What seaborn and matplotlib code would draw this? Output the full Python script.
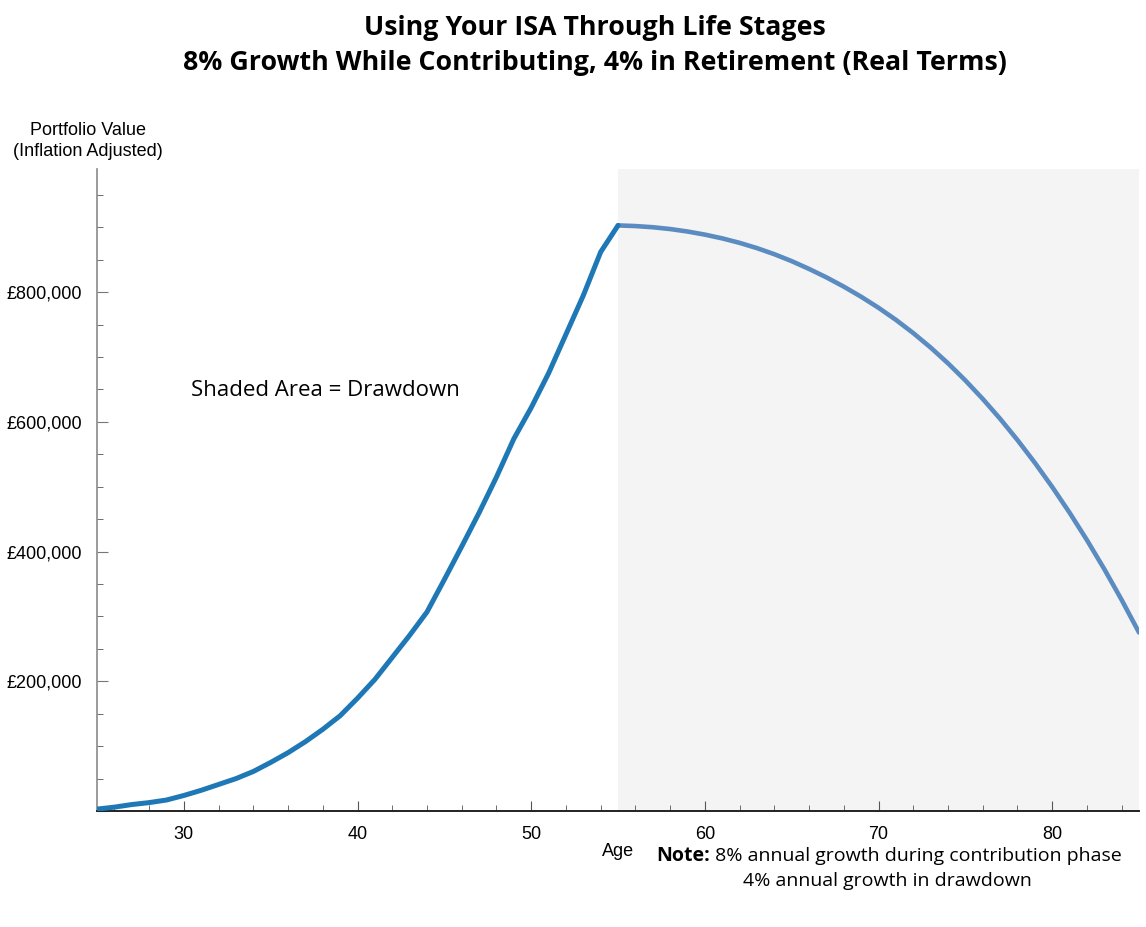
import matplotlib
matplotlib.use("Agg")
import matplotlib.pyplot as plt
from matplotlib.ticker import MultipleLocator, FuncFormatter
import seaborn as sns
import pandas as pd

# contribution phase (8% real growth)
contrib_age = list(range(25, 56))
contrib_value = [3000, 6000, 10000, 13000, 17000, 24000, 32000, 41000, 50000, 61000,
                 75000, 90000, 107000, 126000, 147000, 174000, 203000, 237000, 271000, 307000,
                 357000, 408000, 460000, 515000, 574000, 622000, 675000, 735000, 795000, 862000,
                 903000]

# drawdown phase (4% real growth)
draw_age = list(range(55, 86))
draw_value = [903000, 902000, 900200, 897400, 893600, 888800, 883000, 876100, 868000, 858600,
              847900, 835900, 822900, 808600, 793000, 776000, 757400, 737000, 714700, 690400,
              664000, 635500, 604900, 572100, 537100, 499800, 460100, 417900, 373100, 325600,
              275300]

retire_age = 55
end_age = 85

sns.set_style("ticks")
plt.rcParams["font.family"] = ["Liberation Sans", "DejaVu Sans"]
plt.rcParams["text.color"] = "black"
plt.rcParams["axes.labelcolor"] = "black"
plt.rcParams["xtick.labelcolor"] = "black"
plt.rcParams["ytick.labelcolor"] = "black"

fig = plt.figure(figsize=(11.46, 9.27), dpi=100)
ax = fig.add_axes([0.0847, 0.1251, 0.9092, 0.6926])

ax.axvspan(retire_age, end_age, color="#f4f4f4", zorder=0, lw=0)

contrib = pd.DataFrame({"age": contrib_age, "value": contrib_value})
draw = pd.DataFrame({"age": draw_age, "value": draw_value})
sns.lineplot(data=contrib, x="age", y="value", ax=ax, color="#1f78b6", lw=3.6, zorder=3)
sns.lineplot(data=draw, x="age", y="value", ax=ax, color="#5b8cc1", lw=3.3, zorder=2)

ax.set_xlim(25, 85)
ax.set_ylim(0, 990000)
ax.xaxis.set_major_locator(MultipleLocator(10))
ax.xaxis.set_minor_locator(MultipleLocator(2))
ax.yaxis.set_major_locator(MultipleLocator(200000))
ax.yaxis.set_minor_locator(MultipleLocator(50000))
ax.yaxis.set_major_formatter(FuncFormatter(lambda v, p: "" if v == 0 else f"£{v:,.0f}"))

ax.tick_params(axis="both", which="both", direction="in", labelsize=13)
ax.tick_params(axis="x", which="both", pad=11)
ax.tick_params(axis="y", which="both", pad=11)
ax.tick_params(axis="x", which="major", length=7, color="#555555")
ax.tick_params(axis="x", which="minor", length=4, color="#555555")
ax.tick_params(axis="y", which="major", length=8, color="#777777")
ax.tick_params(axis="y", which="minor", length=4, color="#555555")

for s in ["top", "right"]:
    ax.spines[s].set_visible(False)
ax.spines["left"].set_color("#8a8a8a")
ax.spines["bottom"].set_color("#222222")
ax.spines["left"].set_linewidth(1.2)
ax.spines["bottom"].set_linewidth(1.4)

ax.set_xlabel("Age", fontsize=13, labelpad=0)
ax.set_ylabel("")
fig.text(0.077, 0.848, "Portfolio Value\n(Inflation Adjusted)", ha="center", va="center",
         fontsize=13, linespacing=1.32)

title_font = ["Open Sans", "DejaVu Sans"]
fig.text(0.519, 0.970, "Using Your ISA Through Life Stages", ha="center", va="center",
         fontsize=19.3, fontweight="bold", family=title_font)
fig.text(0.519, 0.932, "8% Growth While Contributing, 4% in Retirement (Real Terms)",
         ha="center", va="center", fontsize=19.3, fontweight="bold", family=title_font)

ax.text(0.09, 0.655, "Shaded Area = Drawdown", transform=ax.transAxes, fontsize=16,
        family=title_font, va="center")

note = fig.text(0.573, 0.077, "Note:", fontsize=14, fontweight="bold", family=title_font,
                va="center", ha="left")
ax.annotate(" 8% annual growth during contribution phase", xy=(1, 0.5), xycoords=note,
            va="center", ha="left", fontsize=14, family=title_font)
fig.text(0.774, 0.050, "4% annual growth in drawdown", fontsize=14, family=title_font,
         va="center", ha="center")

fig.savefig("out.png", dpi=100)
